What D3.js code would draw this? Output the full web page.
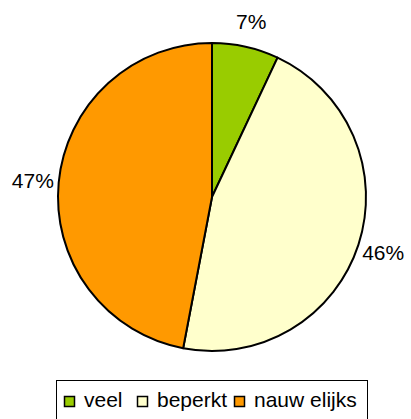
<!DOCTYPE html>
<html>
<head>
<meta charset="utf-8">
<script src="https://cdn.jsdelivr.net/npm/d3@7"></script>
<style>
  html, body { margin: 0; padding: 0; background: #fff; }
  svg { display: block; font-family: "Liberation Sans", Arial, sans-serif; }
</style>
</head>
<body>
<svg id="chart" width="411" height="419"></svg>
<script>
// Answer categories and their shares (percent)
const categories = ["veel", "beperkt", "nauw elijks"];
const values = [7, 46, 47];
const colors = ["#99CC00", "#FFFFCC", "#FF9900"];

const svg = d3.select("#chart");
const cx = 212, cy = 197, radius = 154;

const pie = d3.pie().sort(null).value(d => d)(values);
const arc = d3.arc().innerRadius(0).outerRadius(radius);
const labelArc = d3.arc().innerRadius(180).outerRadius(180);

const g = svg.append("g").attr("transform", `translate(${cx},${cy})`);

g.selectAll("path.slice")
  .data(pie)
  .join("path")
  .attr("class", "slice")
  .attr("d", arc)
  .attr("fill", (d, i) => colors[i])
  .attr("stroke", "#000")
  .attr("stroke-width", 2)
  .attr("stroke-linejoin", "round");

g.selectAll("text.pct")
  .data(pie)
  .join("text")
  .attr("class", "pct")
  .attr("x", d => labelArc.centroid(d)[0])
  .attr("y", d => labelArc.centroid(d)[1])
  .attr("dy", "0.36em")
  .attr("text-anchor", "middle")
  .attr("font-size", 21)
  .attr("fill", "#000")
  .text(d => d.data + "%");

// Legend
const legend = svg.append("g");
legend.append("rect")
  .attr("x", 56.5).attr("y", 380.5)
  .attr("width", 311).attr("height", 50)
  .attr("fill", "#fff").attr("stroke", "#000").attr("stroke-width", 1);

const markerX = [64, 137, 234];
const items = legend.selectAll("g.item")
  .data(categories)
  .join("g")
  .attr("class", "item")
  .attr("transform", (d, i) => `translate(${markerX[i]},396)`);

items.append("rect")
  .attr("x", 0.5).attr("y", 0.5)
  .attr("width", 10).attr("height", 10)
  .attr("fill", (d, i) => colors[i])
  .attr("stroke", "#000").attr("stroke-width", 1.5);

items.append("text")
  .attr("x", 20).attr("y", 11)
  .attr("font-size", 21)
  .attr("fill", "#000")
  .text(d => d);
</script>
</body>
</html>
